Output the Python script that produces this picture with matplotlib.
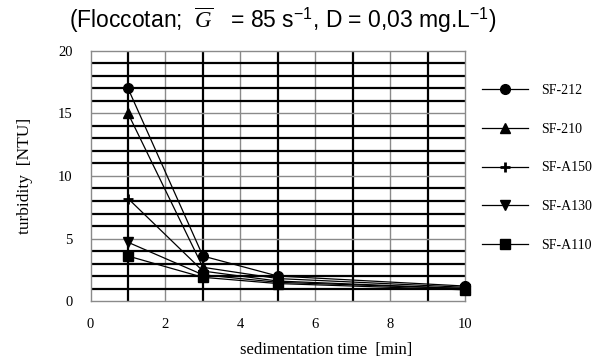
import matplotlib
matplotlib.use("Agg")
import matplotlib.pyplot as plt

# ---- data ----
times = [1, 3, 5, 10]
series_names = ["SF-212", "SF-210", "SF-A150", "SF-A130", "SF-A110"]
sf212 = [17.0, 3.6, 2.0, 1.2]
sf210 = [15.0, 2.7, 1.8, 1.1]
sfa150 = [8.2, 2.4, 1.6, 1.0]
sfa130 = [4.7, 2.1, 1.5, 1.0]
sfa110 = [3.6, 1.9, 1.4, 0.9]
x_ticks = [0, 2, 4, 6, 8, 10]
y_ticks = [0, 5, 10, 15, 20]

plt.rcParams['mathtext.fontset'] = 'custom'
plt.rcParams['mathtext.rm'] = 'Liberation Sans'
plt.rcParams['mathtext.it'] = 'Liberation Serif:italic'

fig = plt.figure(figsize=(6.0, 3.61), dpi=100)
ax = fig.add_axes([0.151, 0.166, 0.624, 0.693])
ax.set_xlim(0, 10)
ax.set_ylim(0, 20)

# grid
for xv in range(1, 10):
    if xv % 2 == 1:
        ax.axvline(xv, color='black', lw=1.6, zorder=1)
    else:
        ax.axvline(xv, color='#8a8a8a', lw=1.0, zorder=1)
for yv in range(1, 20):
    if yv % 5 == 0:
        ax.axhline(yv, color='#8a8a8a', lw=1.0, zorder=1)
    else:
        ax.axhline(yv, color='black', lw=1.6, zorder=1)
for s in ax.spines.values():
    s.set_color('#8a8a8a')
    s.set_linewidth(1.0)

markers = ['o', '^', '+', 'v', 's']
data = [sf212, sf210, sfa150, sfa130, sfa110]
handles = []
for name, vals, m in zip(series_names, data, markers):
    mew = 2.0 if m == '+' else 1.0
    ln, = ax.plot(times, vals, color='black', lw=0.9, marker=m, markersize=7,
                  markeredgewidth=mew, markerfacecolor='black',
                  markeredgecolor='black', zorder=3, clip_on=False, label=name)
    handles.append(ln)

ax.set_xticks(x_ticks)
ax.set_yticks(y_ticks)
ax.tick_params(length=0, labelsize=10.5)
ax.tick_params(axis='y', pad=13)
ax.tick_params(axis='x', pad=12)
for lab in ax.get_xticklabels() + ax.get_yticklabels():
    lab.set_fontfamily('Liberation Serif')

ax.set_xlabel("sedimentation time  [min]", fontfamily='Liberation Serif', fontsize=12)
ax.xaxis.set_label_coords(0.63, -0.165)
ax.set_ylabel("turbidity  [NTU]", fontfamily='Liberation Serif', fontsize=12.5)
ax.yaxis.set_label_coords(-0.155, 0.5)

leg = ax.legend(handles=handles, loc='upper left', bbox_to_anchor=(1.03, 0.89),
                frameon=False, handlelength=3.3, handletextpad=1.0,
                labelspacing=1.85, borderaxespad=0,
                prop={'family': 'Liberation Serif', 'size': 10})

fig.text(0.472, 0.943,
         r"(Floccotan;  $\overline{G}$   = 85 s$^{\mathrm{-1}}$, D = 0,03 mg.L$^{\mathrm{-1}}$)",
         ha='center', va='center', fontsize=16.5, fontfamily='Liberation Sans')

fig.savefig("out.png", dpi=100)
